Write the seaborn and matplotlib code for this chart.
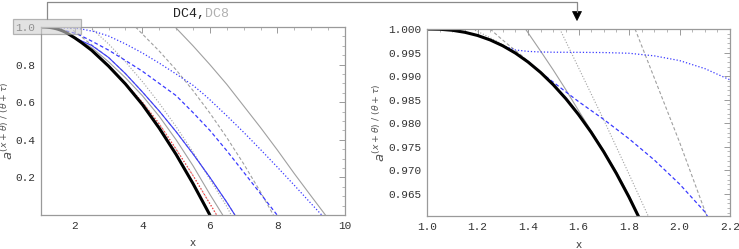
import matplotlib
matplotlib.use("Agg")
import matplotlib.pyplot as plt
from matplotlib.lines import Line2D
from matplotlib.patches import Rectangle, Polygon
from matplotlib.ticker import MultipleLocator, FixedLocator
import seaborn as sns

# exact curve (thick black)
black_x = [1.0, 1.05, 1.1, 1.15, 1.2, 1.25, 1.3, 1.35, 1.4, 1.45, 1.5, 1.55, 1.6, 1.65, 1.7, 1.75,
           1.8, 1.85, 1.9, 2.0, 2.2, 2.5, 3.0, 3.5, 4.0, 4.5, 5.0, 5.5, 6.0]
black_y = [1.0, 0.99995, 0.99973, 0.9993, 0.99863, 0.99768, 0.99644, 0.99489, 0.9930, 0.99077,
           0.98817, 0.9852, 0.98184, 0.97809, 0.97392, 0.96933, 0.96431, 0.95884, 0.95292,
           0.942, 0.917, 0.876, 0.792, 0.697, 0.588, 0.462, 0.322, 0.167, 0.0]

# DC4 family (blue)
blue_solid_x = [1.0, 1.05, 1.1, 1.15, 1.2, 1.25, 1.3, 1.35, 1.4, 1.45, 1.5, 1.55, 1.6, 1.65, 1.7,
                1.75, 1.8, 1.85, 1.9, 2.0, 2.2, 2.5, 3.0, 3.5, 4.0, 4.5, 5.0, 5.5, 6.0, 6.5, 6.74]
blue_solid_y = [1.0, 0.99995, 0.99973, 0.9993, 0.99863, 0.99768, 0.99644, 0.99489, 0.9930, 0.99077,
                0.98817, 0.9852, 0.98184, 0.97809, 0.97392, 0.96933, 0.96431, 0.95884, 0.95292,
                0.9440, 0.926, 0.902, 0.838, 0.752, 0.655, 0.553, 0.443, 0.325, 0.2, 0.068, 0.0]
blue_dash_x = [1.0, 1.05, 1.1, 1.15, 1.2, 1.25, 1.3, 1.35, 1.4, 1.45, 1.5, 1.55, 1.6, 1.7, 1.8,
               1.9, 2.0, 2.1, 2.5, 3.0, 3.5, 4.0, 4.5, 5.0, 5.5, 6.0, 6.5, 7.0, 7.5, 7.99]
blue_dash_y = [1.0, 0.99995, 0.99973, 0.9993, 0.99863, 0.99768, 0.99644, 0.99489, 0.9930, 0.99077,
               0.98872, 0.98665, 0.9846, 0.9808, 0.9767, 0.9722, 0.9671, 0.9612, 0.925, 0.877,
               0.822, 0.765, 0.70, 0.635, 0.545, 0.45, 0.342, 0.228, 0.113, 0.0]
blue_dot_x = [1.0, 1.05, 1.1, 1.15, 1.2, 1.25, 1.3, 1.35, 1.4, 1.45, 1.5, 1.6, 1.7, 1.8, 1.9, 2.0,
              2.1, 2.2, 2.6, 3.0, 3.5, 4.0, 4.5, 5.0, 5.5, 5.8, 6.0, 6.5, 7.0, 7.5, 8.0, 8.5, 9.0, 9.31]
blue_dot_y = [1.0, 0.99995, 0.99973, 0.9993, 0.99863, 0.99768, 0.99644, 0.99555, 0.99525, 0.99512,
              0.99507, 0.99505, 0.995, 0.99485, 0.9943, 0.9933, 0.9916, 0.9892, 0.975, 0.952, 0.91,
              0.862, 0.808, 0.75, 0.69, 0.645, 0.613, 0.528, 0.44, 0.348, 0.254, 0.158, 0.06, 0.0]

# red dotted
red_x = [1.0, 1.05, 1.1, 1.15, 1.2, 1.25, 1.3, 1.35, 1.4, 1.45, 1.5, 1.55, 1.6, 1.65, 1.7, 1.75,
         1.8, 1.85, 1.9, 2.0, 2.2, 2.5, 3.0, 3.5, 4.0, 4.5, 5.0, 5.5, 6.0, 6.2]
red_y = [1.0, 0.99995, 0.99973, 0.9993, 0.99863, 0.99768, 0.99644, 0.99489, 0.9930, 0.99077,
         0.98817, 0.9852, 0.98184, 0.97809, 0.97392, 0.96933, 0.96431, 0.95884, 0.95292,
         0.942, 0.917, 0.876, 0.794, 0.70, 0.60, 0.485, 0.35, 0.21, 0.06, 0.0]

# DC8 family (gray)
gray_dot1_x = [1.18, 1.23, 1.28, 1.35]
gray_dot1_y = [1.0, 0.9987, 0.9973, 0.9950]
gray_dash1_x = [1.25, 1.29, 1.33, 1.37, 1.42]
gray_dash1_y = [1.0, 0.9981, 0.9963, 0.9946, 0.9922]
gray_solid1_x = [1.39, 1.45, 1.5, 1.55, 1.6, 1.65, 1.7, 1.75, 1.8, 1.85, 1.9, 2.0, 2.5, 3.0, 3.5,
                 4.0, 4.5, 5.0, 5.5, 6.0, 6.38]
gray_solid1_y = [1.0, 0.9953, 0.9913, 0.9871, 0.9827, 0.9784, 0.9742, 0.9697, 0.9647, 0.9592,
                 0.9533, 0.946, 0.89, 0.815, 0.73, 0.635, 0.525, 0.40, 0.262, 0.11, 0.0]
gray_dot2_x = [1.526, 1.6, 1.7, 1.8, 1.876, 2.0, 2.5, 3.0, 3.5, 4.0, 4.5, 5.0, 5.5, 6.0, 6.2]
gray_dot2_y = [1.0, 0.9918, 0.9807, 0.9692, 0.9603, 0.946, 0.879, 0.795, 0.70, 0.60, 0.485,
               0.35, 0.21, 0.06, 0.0]
gray_dash2_x = [1.824, 2.0, 2.108, 2.5, 3.0, 3.5, 4.0, 4.5, 5.0, 5.5, 6.0, 6.5, 6.74]
gray_dash2_y = [1.0, 0.976, 0.9603, 0.905, 0.838, 0.752, 0.655, 0.553, 0.443, 0.325, 0.2, 0.068, 0.0]
gray_dot3_x = [2.45, 3.0, 3.5, 4.0, 4.5, 5.0, 5.5, 6.0, 6.5, 6.63]
gray_dot3_y = [1.0, 0.91, 0.815, 0.71, 0.595, 0.47, 0.335, 0.19, 0.045, 0.0]
gray_dash3_x = [3.8, 4.0, 4.5, 5.0, 5.5, 6.0, 6.5, 7.0, 7.5, 7.88]
gray_dash3_y = [1.0, 0.963, 0.872, 0.772, 0.662, 0.542, 0.412, 0.272, 0.122, 0.0]
gray_solid3_x = [4.97, 5.5, 6.0, 6.5, 7.0, 7.5, 8.0, 8.5, 9.0, 9.42]
gray_solid3_y = [1.0, 0.90, 0.80, 0.695, 0.58, 0.465, 0.345, 0.22, 0.10, 0.0]

BLUE = "#3a3aff"
GRAY = "#a0a0a0"
RED = "#ff3b3b"
FRAME = "#9a9a9a"
MONO = "Liberation Mono"
DOT = (0, (1, 1.6))
DASH = (0, (3, 2))

curves = [
    (gray_dot1_x, gray_dot1_y, GRAY, DOT, 0.8),
    (gray_dash1_x, gray_dash1_y, GRAY, DASH, 0.8),
    (gray_solid1_x, gray_solid1_y, GRAY, "-", 0.8),
    (gray_dot2_x, gray_dot2_y, GRAY, DOT, 0.8),
    (gray_dash2_x, gray_dash2_y, GRAY, DASH, 0.8),
    (gray_dot3_x, gray_dot3_y, GRAY, DOT, 0.8),
    (gray_dash3_x, gray_dash3_y, GRAY, DASH, 0.8),
    (gray_solid3_x, gray_solid3_y, GRAY, "-", 0.8),
    (blue_solid_x, blue_solid_y, BLUE, "-", 0.8),
    (blue_dash_x, blue_dash_y, BLUE, DASH, 0.9),
    (blue_dot_x, blue_dot_y, BLUE, DOT, 0.9),
    (red_x, red_y, RED, DOT, 0.9),
    (black_x, black_y, "black", "-", 2.2),
]

sns.set_style("white")
plt.rcParams["font.family"] = [MONO, "DejaVu Sans"]
plt.rcParams["mathtext.fontset"] = "dejavusans"

fig = plt.figure(figsize=(7.39, 2.49), dpi=100)
W, H = 739.0, 249.0


def px_axes(x0, y0, x1, y1):
    return fig.add_axes([x0 / W, 1 - y1 / H, (x1 - x0) / W, (y1 - y0) / H])


ax1 = px_axes(41, 27, 345, 215)
ax2 = px_axes(427, 29, 730, 216)

for ax in (ax1, ax2):
    for xs, ys, c, ls, lw in curves:
        sns.lineplot(x=xs, y=ys, ax=ax, color=c, linestyle=ls, linewidth=lw,
                     sort=False, estimator=None)

ax1.set_xlim(1, 10)
ax1.set_ylim(0, 1.0)
ax1.xaxis.set_major_locator(FixedLocator([2, 4, 6, 8, 10]))
ax1.xaxis.set_minor_locator(MultipleLocator(0.5))
ax1.yaxis.set_major_locator(FixedLocator([0.2, 0.4, 0.6, 0.8, 1.0]))
ax1.yaxis.set_minor_locator(MultipleLocator(0.05))
ax1.set_xticklabels(["2", "4", "6", "8", "10"])
ax1.set_yticklabels(["0.2", "0.4", "0.6", "0.8", "1.0"])

ax2.set_xlim(1.0, 2.2)
ax2.set_ylim(0.9603, 1.0)
ax2.xaxis.set_major_locator(FixedLocator([1.0, 1.2, 1.4, 1.6, 1.8, 2.0, 2.2]))
ax2.xaxis.set_minor_locator(MultipleLocator(0.05))
ax2.yaxis.set_major_locator(FixedLocator([0.965, 0.970, 0.975, 0.980, 0.985, 0.990, 0.995, 1.000]))
ax2.yaxis.set_minor_locator(MultipleLocator(0.001))
ax2.set_xticklabels(["1.0", "1.2", "1.4", "1.6", "1.8", "2.0", "2.2"])
ax2.set_yticklabels(["0.965", "0.970", "0.975", "0.980", "0.985", "0.990", "0.995", "1.000"])

ylab = r"$a^{(x+\theta)\ /\ (\theta+\tau)}$"
for ax in (ax1, ax2):
    for s in ax.spines.values():
        s.set_color(FRAME)
        s.set_linewidth(0.9)
    ax.tick_params(which="both", direction="in", top=True, right=True, color=FRAME,
                   labelsize=8, labelcolor="#333333", pad=4)
    ax.tick_params(which="major", length=4, width=0.7)
    ax.tick_params(which="minor", length=2, width=0.5)
    ax.set_xlabel("x", fontsize=7.5, color="#444444", family="DejaVu Sans")
    ax.set_ylabel(ylab, fontsize=9.5, color="#555555")

ax1.xaxis.set_label_coords(0.5, -0.125)
ax2.xaxis.set_label_coords(0.5, -0.13)
ax1.yaxis.set_label_coords(-0.082, 0.5)
ax2.yaxis.set_label_coords(-0.13, 0.5)

# highlight box around the 1.0 label and the connector to the zoomed panel
fig.add_artist(Rectangle((13 / W, 1 - 34 / H), 68 / W, 15 / H, transform=fig.transFigure,
                         facecolor="#cfcfcf", edgecolor="#8a8a8a", lw=0.9, alpha=0.6, zorder=5))
conn = [(47.5, 19), (47.5, 2.5), (577, 2.5), (577, 12)]
fig.add_artist(Line2D([p[0] / W for p in conn], [1 - p[1] / H for p in conn],
                      transform=fig.transFigure, color="#8a8a8a", lw=0.9))
fig.add_artist(Polygon([(572.5 / W, 1 - 11.5 / H), (581.5 / W, 1 - 11.5 / H), (577 / W, 1 - 20.5 / H)],
                       closed=True, transform=fig.transFigure, facecolor="black", edgecolor="black", lw=0.5))

fig.text(205 / W, 1 - 14 / H, "DC4,", ha="right", va="center", fontsize=9.5, color="#222222", family=MONO)
fig.text(205 / W, 1 - 14 / H, "DC8", ha="left", va="center", fontsize=9.5, color="#b0b0b0", family=MONO)

fig.savefig("out.png", dpi=100)
